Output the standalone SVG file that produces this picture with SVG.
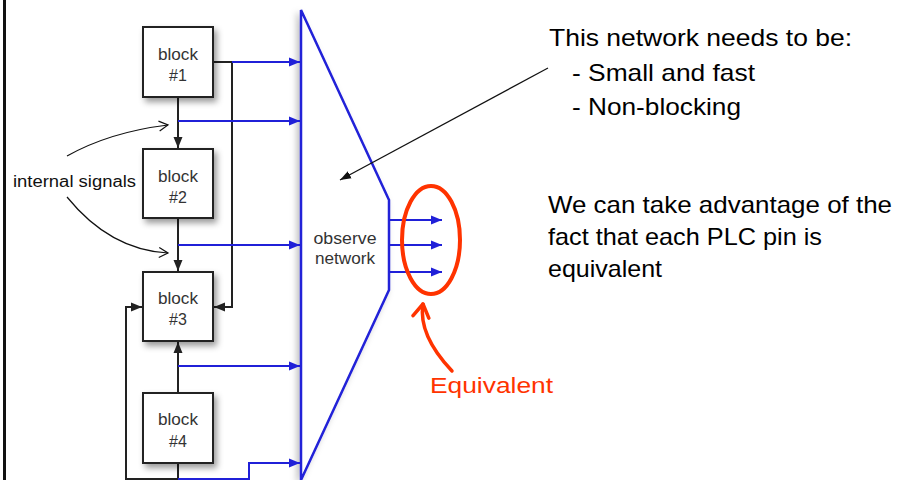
<svg xmlns="http://www.w3.org/2000/svg" width="900" height="480" viewBox="0 0 900 480">
  <style>
    .blk { fill: #ffffff; stroke: #222222; stroke-width: 2; }
    .blabel { font-family: "Liberation Sans", Arial, sans-serif; font-size: 16px; fill: #333333; text-anchor: middle; }
    .wire { fill: none; stroke: #222222; stroke-width: 2; }
    .bus { fill: none; stroke: #2020d8; stroke-width: 2; }
    .note { font-family: "Liberation Sans", Arial, sans-serif; font-size: 24px; fill: #000000; }
    .thin { fill: none; stroke: #111111; stroke-width: 1.2; }
  </style>
  <defs>
    <filter id="shadow" x="-30%" y="-30%" width="160%" height="160%">
      <feDropShadow dx="3" dy="4" stdDeviation="3" flood-color="#000000" flood-opacity="0.4"/>
    </filter>
    <filter id="netShadow" x="-30%" y="-10%" width="160%" height="120%">
      <feDropShadow dx="-3" dy="3" stdDeviation="3" flood-color="#000000" flood-opacity="0.25"/>
    </filter>
    <marker id="arrBlue" markerUnits="userSpaceOnUse" markerWidth="12" markerHeight="10" refX="11" refY="5" orient="auto">
      <path d="M0,0.5 L11,5 L0,9.5 Z" fill="#2020d8"/>
    </marker>
    <marker id="arrBlack" markerUnits="userSpaceOnUse" markerWidth="12" markerHeight="10" refX="11" refY="5" orient="auto">
      <path d="M0,0.5 L11,5 L0,9.5 Z" fill="#222222"/>
    </marker>
    <marker id="arrThin" markerUnits="userSpaceOnUse" markerWidth="12" markerHeight="10" refX="11" refY="5" orient="auto">
      <path d="M0,1 L11,5 L0,9 Z" fill="#111111"/>
    </marker>
    <marker id="arrOpen" markerUnits="userSpaceOnUse" markerWidth="12" markerHeight="12" refX="10" refY="6" orient="auto">
      <path d="M1,1 L10,6 L1,11" fill="none" stroke="#111111" stroke-width="1.2"/>
    </marker>
    <marker id="arrRed" markerUnits="userSpaceOnUse" markerWidth="20" markerHeight="20" refX="16" refY="10" orient="auto">
      <path d="M3,2 L16,10 L3,18" fill="none" stroke="#ff3300" stroke-width="3.5" stroke-linecap="round" stroke-linejoin="round"/>
    </marker>
  </defs>

  <rect width="900" height="480" fill="#ffffff"/>
  <!-- left frame edge -->
  <line x1="4.5" y1="0" x2="4.5" y2="480" stroke="#111111" stroke-width="3"/>

  <!-- observe network -->
  <g id="observe-network">
    <path d="M301,10 L389,200 L389,290 L301,480 Z" fill="#ffffff" stroke="#2020d8" stroke-width="2.5" filter="url(#netShadow)"/>
    <text class="blabel" x="345" y="244" textLength="63" lengthAdjust="spacingAndGlyphs">observe</text>
    <text class="blabel" x="345" y="264" textLength="60" lengthAdjust="spacingAndGlyphs">network</text>
  </g>

  <!-- connectors -->
  <g id="connectors">
    <!-- block chain -->
    <path class="wire" d="M178,97 L178,148" marker-end="url(#arrBlack)"/>
    <path class="wire" d="M178,218 L178,271" marker-end="url(#arrBlack)"/>
    <path class="wire" d="M178,393 L178,342" marker-end="url(#arrBlack)"/>
    <path class="wire" d="M178,463 L178,480"/>
    <!-- block #1 feedback into block #3 -->
    <path class="wire" d="M213,62 L232,62 L232,307 L214,307" marker-end="url(#arrBlack)"/>
    <!-- block #4 loop into block #3 -->
    <path class="wire" d="M178,479 L126,479 L126,307 L142,307" marker-end="url(#arrBlack)"/>
    <!-- observed signals -->
    <path class="bus" d="M232,62 L300,62" marker-end="url(#arrBlue)"/>
    <path class="bus" d="M178,121 L300,121" marker-end="url(#arrBlue)"/>
    <path class="bus" d="M178,245 L300,245" marker-end="url(#arrBlue)"/>
    <path class="bus" d="M178,366 L300,366" marker-end="url(#arrBlue)"/>
    <path class="bus" d="M178,479 L249,479 L249,463 L300,463" marker-end="url(#arrBlue)"/>
    <!-- network outputs -->
    <path class="bus" d="M389,220 L442,220" marker-end="url(#arrBlue)"/>
    <path class="bus" d="M389,245 L442,245" marker-end="url(#arrBlue)"/>
    <path class="bus" d="M389,272 L442,272" marker-end="url(#arrBlue)"/>
    <!-- annotation pointers -->
    <path class="thin" d="M67,156 Q110,132 168,125" marker-end="url(#arrOpen)"/>
    <path class="thin" d="M67,197 Q110,250 168,253" marker-end="url(#arrOpen)"/>
    <path class="thin" d="M548,68 L340,180" marker-end="url(#arrThin)"/>
    <path d="M452,371 Q418,335 423,304" fill="none" stroke="#ff3300" stroke-width="3.5" stroke-linecap="round" marker-end="url(#arrRed)"/>
  </g>

  <g id="block1">
    <rect class="blk" x="143" y="27" width="70" height="70" filter="url(#shadow)"/>
    <text class="blabel" x="178" y="60" textLength="40" lengthAdjust="spacingAndGlyphs">block</text>
    <text class="blabel" x="178" y="81">#1</text>
  </g>
  <g id="block2">
    <rect class="blk" x="143" y="149" width="70" height="69" filter="url(#shadow)"/>
    <text class="blabel" x="178" y="182" textLength="40" lengthAdjust="spacingAndGlyphs">block</text>
    <text class="blabel" x="178" y="203">#2</text>
  </g>
  <g id="block3">
    <rect class="blk" x="143" y="272" width="70" height="69" filter="url(#shadow)"/>
    <text class="blabel" x="178" y="304" textLength="40" lengthAdjust="spacingAndGlyphs">block</text>
    <text class="blabel" x="178" y="325">#3</text>
  </g>
  <g id="block4">
    <rect class="blk" x="143" y="393" width="70" height="70" filter="url(#shadow)"/>
    <text class="blabel" x="178" y="425" textLength="40" lengthAdjust="spacingAndGlyphs">block</text>
    <text class="blabel" x="178" y="447">#4</text>
  </g>

  <g id="internal-signals">
    <text x="13" y="187" font-family="Liberation Sans, Arial, sans-serif" font-size="16" fill="#111111" textLength="123" lengthAdjust="spacingAndGlyphs">internal signals</text>
  </g>

  <!-- grouping of equivalent outputs -->
  <g id="equivalent">
    <ellipse cx="431" cy="240" rx="29" ry="54" fill="none" stroke="#ff3300" stroke-width="4"/>
    <text x="430" y="393" font-family="Liberation Sans, Arial, sans-serif" font-size="22" fill="#ff3300" textLength="123" lengthAdjust="spacingAndGlyphs">Equivalent</text>
  </g>

  <g id="requirements">
    <text class="note" x="549" y="46" textLength="303" lengthAdjust="spacingAndGlyphs">This network needs to be:</text>
    <text class="note" x="572" y="81" textLength="183" lengthAdjust="spacingAndGlyphs">- Small and fast</text>
    <text class="note" x="572" y="115" textLength="169" lengthAdjust="spacingAndGlyphs">- Non-blocking</text>
  </g>

  <g id="pin-note">
    <text class="note" x="548" y="213" textLength="344" lengthAdjust="spacingAndGlyphs">We can take advantage of the</text>
    <text class="note" x="548" y="245" textLength="274" lengthAdjust="spacingAndGlyphs">fact that each PLC pin is</text>
    <text class="note" x="548" y="277" textLength="114" lengthAdjust="spacingAndGlyphs">equivalent</text>
  </g>
</svg>
